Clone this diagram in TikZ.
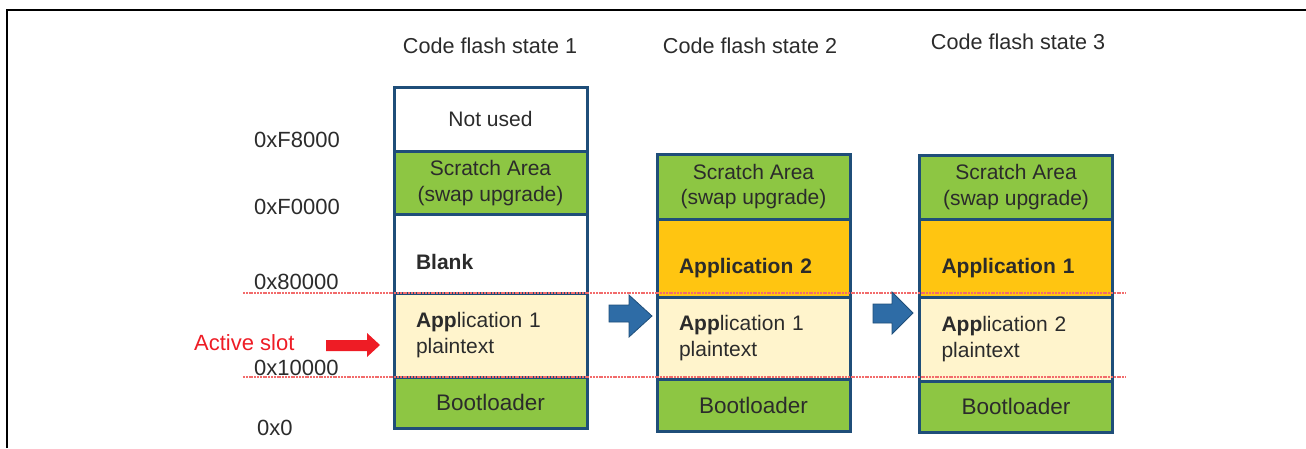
\documentclass[tikz,border=0pt]{standalone}
\usepackage{fontspec}
\setmainfont{Liberation Sans}
\definecolor{cellgreen}{HTML}{8DC643}
\definecolor{cellorange}{HTML}{FFC511}
\definecolor{cellcream}{HTML}{FFF4CC}
\definecolor{cellborder}{HTML}{1F4E79}
\definecolor{arrowblue}{HTML}{2E6CA6}
\definecolor{slotred}{HTML}{EE1C25}
\definecolor{boundred}{HTML}{F26B6B}
\definecolor{textgray}{HTML}{2B2B2B}
\newcommand{\cellfont}{\fontsize{21}{25.5}\selectfont}
\tikzset{
    cell/.style={draw=cellborder, line width=3pt, minimum width=193pt, inner sep=0pt,
        font=\cellfont, text=textgray, align=center},
    leftcell/.style={cell, align=left, text width=149pt},
    lowtext/.style={text height=31pt, text depth=0pt},
    addr/.style={anchor=west, font=\fontsize{22}{26}\selectfont, text=textgray, inner sep=0pt},
    title/.style={font=\fontsize{21.6}{26}\selectfont, text=textgray, inner sep=0pt},
    boundary/.style={draw=boundred, dash pattern=on 2pt off 0.8pt, line width=1.1pt},
    blockarrow/.style={fill=arrowblue, draw=cellborder, line width=0.8pt}
}
\begin{document}
\begin{tikzpicture}[x=1pt,y=-1pt]
        \useasboundingbox (0,0) rectangle (1306,448);
        \draw[line width=2.2pt] (7,448) -- (7,10) -- (1306,10);

        % titles
        \node[title] (T1) at (490,46) {Code flash state 1};
        \node[title] (T2) at (750,46) {Code flash state 2};
        \node[title] (T3) at (1018,42) {Code flash state 3};

        % state 1
        \node[cell, fill=white, minimum height=64pt] (N1) at (490.5,119) {Not used};
        \node[cell, fill=cellgreen, minimum height=63pt] (S1) at (490.5,183) {Scratch Area\\(swap upgrade)};
        \node[leftcell, lowtext, fill=white, minimum height=79pt] (B1) at (490.5,253.5) {\textbf{Blank}};
        \node[leftcell, fill=cellcream, minimum height=84pt] (P1) at (490.5,335) {\textbf{App}lication 1\\plaintext};
        \node[cell, fill=cellgreen, minimum height=51pt, font=\fontsize{22.5}{26}\selectfont] (L1) at (490.5,402.5) {Bootloader};

        % state 2
        \node[cell, fill=cellgreen, minimum height=65pt] (S2) at (753.5,186.5) {Scratch Area\\(swap upgrade)};
        \node[leftcell, lowtext, fill=cellorange, minimum height=78pt] (A2) at (753.5,258) {\textbf{Application 2}};
        \node[leftcell, fill=cellcream, minimum height=82pt] (P2) at (753.5,338) {\textbf{App}lication 1\\plaintext};
        \node[cell, fill=cellgreen, minimum height=52pt, font=\fontsize{22.5}{26}\selectfont] (L2) at (753.5,405) {Bootloader};

        % state 3
        \node[cell, fill=cellgreen, minimum height=64pt] (S3) at (1016,187) {Scratch Area\\(swap upgrade)};
        \node[leftcell, lowtext, fill=cellorange, minimum height=78pt] (A3) at (1016,258) {\textbf{Application 1}};
        \node[leftcell, fill=cellcream, minimum height=84pt] (P3) at (1016,339) {\textbf{App}lication 2\\plaintext};
        \node[cell, fill=cellgreen, minimum height=51pt, font=\fontsize{22.5}{26}\selectfont] (L3) at (1016,406.5) {Bootloader};

        % addresses
        \node[addr] (F8) at (254,140) {0xF8000};
        \node[addr] (F0) at (254,207) {0xF0000};
        \node[addr] (E8) at (254,282) {0x80000};
        \node[addr] (E1) at (254,368) {0x10000};
        \node[addr] (E0) at (257,428) {0x0};
        \draw[boundary] (243,293) -- (1126,293);
        \draw[boundary] (243,377) -- (1126,377);

        % active slot
        \node[addr, text=slotred] (AS) at (194,343) {Active slot};
        \fill[slotred] (326,340) -- (367,340) -- (367,333) -- (380,345) -- (367,357) -- (367,351) -- (326,351) -- cycle;

        % swap steps
        \filldraw[blockarrow] (609,305) -- (629,305) -- (629,295) -- (652,316) -- (629,337) -- (629,322) -- (609,322) -- cycle;
        \filldraw[blockarrow] (873,304) -- (892,304) -- (892,292) -- (913,313) -- (892,334) -- (892,323) -- (873,323) -- cycle;
    \end{tikzpicture}
\end{document}
